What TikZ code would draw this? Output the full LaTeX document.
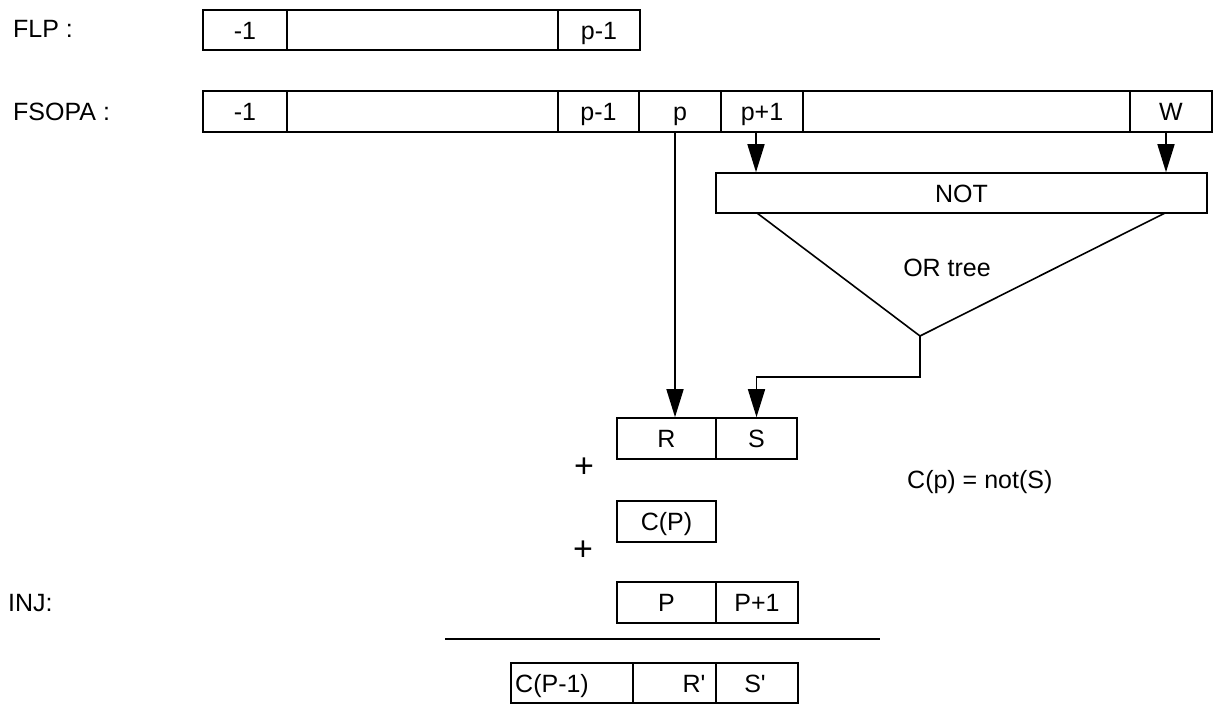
\documentclass[tikz,border=0pt]{standalone}
\usepackage{fontspec}
\setmainfont{Liberation Sans}
\usetikzlibrary{arrows.meta}
\begin{document}
\begin{tikzpicture}[x=1pt,y=-1pt,
  txt/.style={font=\fontsize{25}{30}\selectfont,inner sep=0pt},
  celltxt/.style={txt,text height=18pt,text depth=0pt},
  cell/.style={draw,line width=1.6pt,inner sep=0pt,minimum width=#1,minimum height=41pt,celltxt},
  lowcell/.style={cell=#1,minimum height=40pt},
  wire/.style={line width=1.6pt},
  arr/.style={wire,-{Triangle[length=28pt,width=17pt]}},
  plus/.style={font=\fontsize{34}{36}\selectfont,inner sep=0pt}]
\useasboundingbox (0,0) rectangle (1214,704);

% row labels
\node[txt,anchor=base west] (lflp) at (13,37) {FLP :};
\node[txt,anchor=base west] (lfsopa) at (13,120) {FSOPA :};
\node[txt,anchor=base west] (linj) at (8,611) {INJ:};

% FLP register
\node[lowcell=84pt]  (f1) at (245,30)   {-1};
\node[lowcell=271pt] (f2) at (422.5,30) {};
\node[lowcell=82pt]  (f3) at (599,30)   {p-1};

% FSOPA register
\node[cell=84pt]  (s1) at (245,111.5)   {-1};
\node[cell=271pt] (s2) at (422.5,111.5) {};
\node[cell=81pt]  (s3) at (598.5,111.5) {p-1};
\node[cell=82pt]  (s4) at (680,111.5)   {p};
\node[cell=82pt]  (s5) at (762,111.5)   {p+1};
\node[cell=327pt] (s6) at (966.5,111.5) {};
\node[cell=82pt]  (s7) at (1171,111.5)  {W};

% NOT stage and OR tree
\node[lowcell=491pt] (not) at (961.5,193) {NOT};
\coordinate (apex) at (920,336);
\coordinate (tleft) at (757,213);
\coordinate (tright) at (1165,213);
\draw[wire,line join=miter] (tleft) -- (apex) -- (tright);
\node[celltxt] (ortree) at (947,267) {OR tree};
\coordinate (bend) at (920,377);

% operand R S
\node[cell=99pt] (r) at (666.5,438.5) {R};
\node[cell=81pt] (s) at (756.5,438.5) {S};

% carry
\node[cell=99pt] (cp) at (666.5,521.5) {C(P)};

% injection
\node[cell=99pt] (p)  at (666.5,602.5) {P};
\node[cell=82pt] (p1) at (757,602.5)   {P+1};

% result
\node[lowcell=122pt] (res1) at (572,683)   {};
\node[lowcell=83pt]  (res2) at (674.5,683) {};
\node[lowcell=82pt]  (res3) at (757,683)   {};
\node[celltxt,anchor=west] (t1) at (515,683) {C(P-1)};
\node[celltxt] (t2) at (694,683) {R\textquotesingle};
\node[celltxt] (t3) at (755,683) {S\textquotesingle};

% plus signs, sum bar, note
\node[plus] (plusa) at (584,468) {+};
\node[plus] (plusb) at (583,551) {+};
\coordinate (barl) at (445,639);
\coordinate (barr) at (880,639);
\draw[wire] (barl) -- (barr);
\node[txt,anchor=base west] (note) at (907,488) {C(p) = not(S)};

% connectors
\coordinate (xp) at (675,0);
\coordinate (xq) at (756,0);
\coordinate (xw) at (1166,0);
\draw[arr] (s4.south -| xp) -- (r.north -| xp);
\draw[arr] (s5.south -| xq) -- (not.north -| xq);
\draw[arr] (s7.south -| xw) -- (not.north -| xw);
\draw[arr] (apex) -- (bend) -| (s.north);
\end{tikzpicture}
\end{document}
